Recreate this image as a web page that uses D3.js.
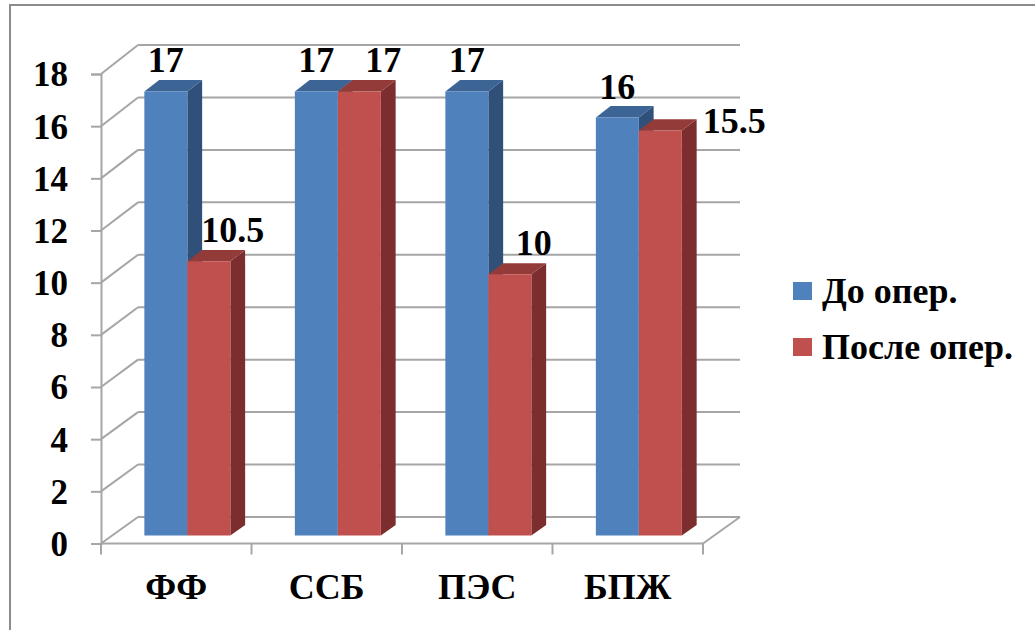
<!DOCTYPE html>
<html>
<head>
<meta charset="utf-8">
<script src="https://cdn.jsdelivr.net/npm/d3@7"></script>
<style>
  html, body { margin: 0; padding: 0; background: #fff; }
  svg { display: block; }
</style>
</head>
<body>
<svg id="chart" width="1035" height="630"></svg>
<script>
// Chart data
const categories = ["ФФ", "ССБ", "ПЭС", "БПЖ"];
const seriesNames = ["До опер.", "После опер."];
const beforeValues = [17, 17, 17, 16];
const afterValues = [10.5, 17, 10, 15.5];
const yTicks = [0, 2, 4, 6, 8, 10, 12, 14, 16, 18];

const seriesValues = [beforeValues, afterValues];
const colors = [
  { front: "#4f81bd", top: "#3c6494", side: "#30507a" },
  { front: "#c0504d", top: "#933b39", side: "#7b2e2d" }
];
const FONT = "Liberation Serif";

const svg = d3.select("#chart");

// 3D frame: front plane and back wall, joined by a depth offset
const frontLeft = 101, frontRight = 703;
const depthX = 37;
const yFront = d3.scaleLinear().domain([0, 18]).range([543.5, 74]);
const yBack = d3.scaleLinear().domain([0, 18]).range([517, 45]);
// point at depth t (0 = front, 1 = back)
const px = (x, t) => x + depthX * t;
const py = (v, t) => yFront(v) * (1 - t) + yBack(v) * t;

const x0 = d3.scaleBand().domain(categories).range([frontLeft, frontRight]).padding(0);
const x1 = d3.scaleBand().domain(seriesNames).range([0, x0.bandwidth()])
  .paddingInner(0).paddingOuter(0.75);

const gridColor = "#a6a6a6";

const label = (sel, size) => sel
  .attr("font-family", FONT).attr("font-weight", "bold")
  .attr("font-size", size).attr("fill", "#000");

// Outer chart border
svg.append("rect")
  .attr("x", 10).attr("y", 5).attr("width", 1040).attr("height", 640)
  .attr("fill", "none").attr("stroke", "#8c8c8c").attr("stroke-width", 2);

// Back wall gridlines and side wall diagonals
const grid = svg.append("g").attr("stroke", gridColor).attr("stroke-width", 2).attr("fill", "none");
grid.selectAll("line.back").data(yTicks).join("line").attr("class", "back")
  .attr("x1", px(frontLeft, 1)).attr("x2", px(frontRight, 1))
  .attr("y1", d => yBack(d)).attr("y2", d => yBack(d));
grid.selectAll("line.side").data(yTicks).join("line").attr("class", "side")
  .attr("x1", frontLeft).attr("x2", px(frontLeft, 1))
  .attr("y1", d => yFront(d)).attr("y2", d => yBack(d));
// floor right edge
grid.append("line")
  .attr("x1", frontRight).attr("y1", yFront(0))
  .attr("x2", px(frontRight, 1)).attr("y2", yBack(0));

// Value axis
const yAxis = svg.append("g")
  .attr("transform", `translate(${frontLeft},0)`)
  .call(d3.axisLeft(yFront).tickValues(yTicks).tickSize(10).tickPadding(23).tickFormat(d3.format("d")));
yAxis.attr("font-family", FONT).attr("font-size", 35).attr("font-weight", "bold");
yAxis.select(".domain").attr("stroke", gridColor).attr("stroke-width", 2);
yAxis.selectAll(".tick line").attr("stroke", gridColor).attr("stroke-width", 2);
yAxis.selectAll(".tick text").attr("fill", "#000").attr("dy", "0.34em");

// Category axis line and boundary ticks
const catAxis = svg.append("g").attr("stroke", gridColor).attr("stroke-width", 2);
catAxis.append("line")
  .attr("x1", frontLeft).attr("x2", frontRight)
  .attr("y1", yFront(0)).attr("y2", yFront(0));
const boundaries = categories.map(c => x0(c)).concat([x0(categories[categories.length - 1]) + x0.bandwidth()]);
catAxis.selectAll("line.tick").data(boundaries).join("line").attr("class", "tick")
  .attr("x1", d => d).attr("x2", d => d)
  .attr("y1", yFront(0)).attr("y2", yFront(0) + 11);

svg.append("g").selectAll("text").data(categories).join("text")
  .attr("x", d => x0(d) + x0.bandwidth() / 2)
  .attr("y", 599)
  .attr("text-anchor", "middle")
  .call(label, 36)
  .text(d => d);

// Bars: front face at depth 0.3, back at 0.7
const t0 = 0.3, t1 = 0.7;
const barsG = svg.append("g");
const bars = [];
categories.forEach((c, i) => {
  seriesNames.forEach((s, j) => {
    bars.push({ cat: c, ser: s, si: j, value: seriesValues[j][i] });
  });
});

const poly = pts => pts.map(p => p.join(",")).join(" ");

bars.forEach(b => {
  const xl = x0(b.cat) + x1(b.ser);
  const xr = xl + x1.bandwidth();
  const col = colors[b.si];
  const g = barsG.append("g");
  // right side face
  g.append("polygon").attr("fill", col.side).attr("points", poly([
    [px(xr, t0), py(0, t0)], [px(xr, t1), py(0, t1)],
    [px(xr, t1), py(b.value, t1)], [px(xr, t0), py(b.value, t0)]
  ]));
  // top face
  g.append("polygon").attr("fill", col.top).attr("points", poly([
    [px(xl, t0), py(b.value, t0)], [px(xr, t0), py(b.value, t0)],
    [px(xr, t1), py(b.value, t1)], [px(xl, t1), py(b.value, t1)]
  ]));
  // front face
  g.append("polygon").attr("fill", col.front).attr("points", poly([
    [px(xl, t0), py(0, t0)], [px(xr, t0), py(0, t0)],
    [px(xr, t0), py(b.value, t0)], [px(xl, t0), py(b.value, t0)]
  ]));
});

// Value labels
const labelsG = svg.append("g");
bars.forEach(b => {
  const xl = px(x0(b.cat) + x1(b.ser), t0);
  const w = x1.bandwidth();
  const topY = py(b.value, t0);
  const i = categories.indexOf(b.cat);
  const other = beforeValues[i];
  let x, y, anchor = "middle";
  if (b.si === 0) {
    x = xl + w / 2; y = topY - 19;
  } else if (other > b.value && other - b.value < 1) {
    // too close to the neighbouring label: set it beside the bar
    x = xl + w + (depthX * (t1 - t0)) + 6; y = topY + 2; anchor = "start";
  } else {
    x = xl + w / 2 + 24; y = topY - 19;
  }
  labelsG.append("text")
    .attr("x", x).attr("y", y).attr("text-anchor", anchor)
    .call(label, 36)
    .text(d3.format("")(b.value));
});

// Legend
const legend = svg.append("g");
seriesNames.forEach((s, j) => {
  const row = legend.append("g").attr("transform", `translate(793,${282 + j * 56})`);
  row.append("rect").attr("width", 19).attr("height", 18).attr("fill", colors[j].front);
  row.append("text").attr("x", 29).attr("y", 21).call(label, 36).text(s);
});
</script>
</body>
</html>
